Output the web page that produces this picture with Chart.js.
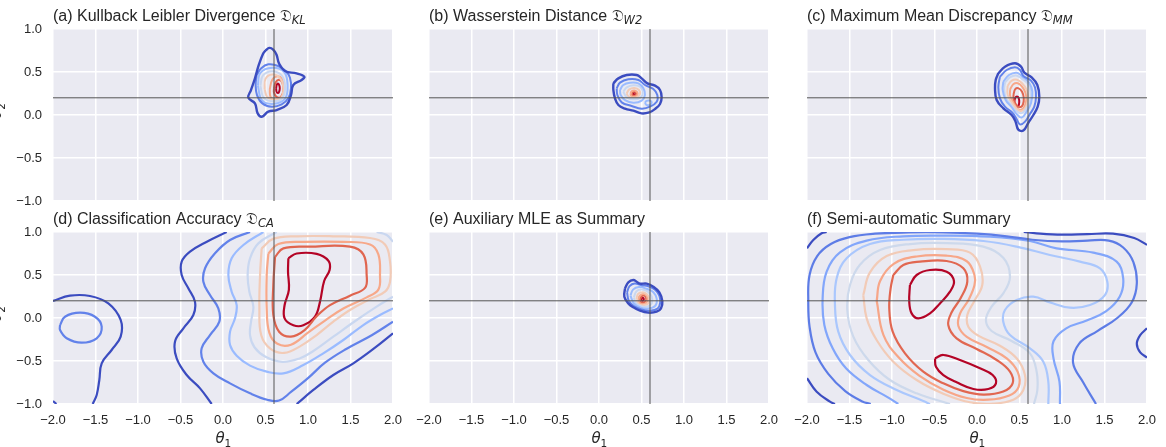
<!DOCTYPE html>
<html>
<head>
<meta charset="utf-8">
<script src="https://cdn.jsdelivr.net/npm/chart.js@4.4.1/dist/chart.umd.min.js"></script>
<style>
  body { margin: 0; background: #fff; }
  #wrap { position: relative; width: 1166px; height: 447px; overflow: hidden; }
  #wrap canvas { position: absolute; left: 0; top: 0; }
</style>
</head>
<body>
<div id="wrap"></div>
<script>
// axis ticks and the true parameter (crosshair)
const xTicks = [-2, -1.5, -1, -0.5, 0, 0.5, 1, 1.5, 2];
const yTicks = [-1, -0.5, 0, 0.5, 1];
const trueTheta = [0.6, 0.2];

// coolwarm colours per contour level (1 = lowest density)
const colors8 = ['#3b4cc0', '#6282ea', '#9abbff', '#c9d7f0', '#f2cbb7', '#f7a889', '#e0654f', '#b40426'];
const colors9 = ['#3b4cc0', '#5d7ce6', '#82a6fb', '#aac7fd', '#cdd9ec', '#f2cbb7', '#f7a688', '#e16751', '#b40426'];

// contour lines: [level, [[theta1, theta2], ...]]
const klLines = [
  [1, [[0.5,0.75],[0.545,0.78],[0.59,0.76],[0.63,0.7],[0.659,0.6],[0.729,0.511],[0.866,0.484],[0.957,0.446],[0.925,0.407],[0.827,0.349],[0.8,0.232],[0.749,0.116],[0.631,0.058],[0.533,0.039],[0.455,-0.02],[0.408,0.019],[0.376,0.135],[0.298,0.201],[0.329,0.29],[0.376,0.426],[0.42,0.58],[0.47,0.71],[0.5,0.75]]],
  [2, [[0.396,0.465],[0.447,0.542],[0.533,0.589],[0.651,0.57],[0.737,0.511],[0.788,0.434],[0.8,0.31],[0.768,0.194],[0.69,0.124],[0.573,0.097],[0.463,0.135],[0.4,0.232],[0.384,0.349],[0.396,0.465]]],
  [3, [[0.41,0.34],[0.44,0.49],[0.58,0.55],[0.72,0.5],[0.76,0.34],[0.73,0.19],[0.6,0.13],[0.46,0.17],[0.41,0.34]]],
  [4, [[0.44,0.34],[0.47,0.46],[0.58,0.51],[0.69,0.46],[0.73,0.33],[0.7,0.2],[0.6,0.16],[0.48,0.2],[0.44,0.34]]],
  [5, [[0.49,0.3],[0.5,0.42],[0.58,0.47],[0.67,0.43],[0.71,0.31],[0.68,0.2],[0.6,0.18],[0.52,0.21],[0.49,0.3]]],
  [6, [[0.55,0.3],[0.58,0.41],[0.64,0.45],[0.7,0.41],[0.72,0.3],[0.69,0.2],[0.62,0.18],[0.56,0.21],[0.55,0.3]]],
  [7, [[0.6,0.31],[0.62,0.38],[0.66,0.41],[0.7,0.37],[0.71,0.28],[0.68,0.21],[0.63,0.21],[0.6,0.26],[0.6,0.31]]],
  [8, [[0.625,0.31],[0.632,0.35],[0.645,0.365],[0.66,0.35],[0.668,0.31],[0.66,0.27],[0.645,0.255],[0.63,0.27],[0.625,0.31]]]
];

const wdLines = [
  [1, [[0.169,0.368],[0.228,0.426],[0.326,0.465],[0.443,0.465],[0.502,0.426],[0.569,0.368],[0.659,0.341],[0.718,0.291],[0.737,0.205],[0.718,0.128],[0.659,0.07],[0.592,0.031],[0.502,0.019],[0.404,0.05],[0.306,0.074],[0.228,0.116],[0.188,0.194],[0.169,0.291],[0.169,0.368]]],
  [2, [[0.208,0.31],[0.247,0.376],[0.345,0.415],[0.463,0.407],[0.541,0.349],[0.639,0.302],[0.686,0.233],[0.679,0.155],[0.6,0.097],[0.502,0.074],[0.384,0.105],[0.267,0.147],[0.216,0.233],[0.208,0.31]]],
  [3, [[0.247,0.291],[0.286,0.349],[0.365,0.376],[0.463,0.368],[0.522,0.31],[0.541,0.233],[0.502,0.167],[0.404,0.143],[0.306,0.174],[0.255,0.233],[0.247,0.291]]],
  [3, [[0.54,0.14],[0.56,0.165],[0.6,0.167],[0.62,0.145],[0.6,0.118],[0.56,0.116],[0.54,0.14]]],
  [4, [[0.286,0.271],[0.326,0.322],[0.404,0.345],[0.482,0.329],[0.514,0.271],[0.49,0.205],[0.404,0.182],[0.326,0.205],[0.286,0.271]]],
  [5, [[0.326,0.252],[0.357,0.298],[0.416,0.314],[0.47,0.291],[0.482,0.244],[0.443,0.205],[0.384,0.202],[0.341,0.221],[0.326,0.252]]],
  [6, [[0.37,0.245],[0.385,0.275],[0.415,0.285],[0.445,0.27],[0.455,0.245],[0.44,0.22],[0.41,0.213],[0.38,0.222],[0.37,0.245]]],
  [7, [[0.385,0.245],[0.395,0.265],[0.415,0.272],[0.435,0.262],[0.44,0.245],[0.43,0.228],[0.41,0.224],[0.392,0.23],[0.385,0.245]]],
  [8, [[0.398,0.245],[0.405,0.257],[0.418,0.26],[0.43,0.252],[0.43,0.238],[0.418,0.232],[0.404,0.235],[0.398,0.245]]]
];

const mmLines = [
  [1, [[0.251,0.485],[0.329,0.562],[0.447,0.601],[0.518,0.562],[0.557,0.492],[0.643,0.438],[0.71,0.349],[0.733,0.213],[0.714,0.097],[0.663,0.0],[0.604,-0.09],[0.545,-0.18],[0.486,-0.17],[0.455,-0.08],[0.408,0.0],[0.31,0.078],[0.231,0.175],[0.212,0.31],[0.22,0.407],[0.251,0.485]]],
  [2, [[0.27,0.446],[0.349,0.523],[0.447,0.554],[0.506,0.523],[0.545,0.454],[0.635,0.4],[0.682,0.322],[0.694,0.206],[0.674,0.097],[0.623,0.012],[0.565,-0.077],[0.506,-0.11],[0.467,-0.05],[0.416,0.027],[0.329,0.097],[0.27,0.194],[0.251,0.322],[0.27,0.446]]],
  [3, [[0.31,0.388],[0.376,0.465],[0.467,0.492],[0.533,0.446],[0.612,0.376],[0.651,0.271],[0.635,0.136],[0.584,0.039],[0.525,-0.03],[0.467,0.01],[0.408,0.09],[0.337,0.175],[0.302,0.291],[0.31,0.388]]],
  [4, [[0.33,0.38],[0.39,0.44],[0.46,0.46],[0.53,0.42],[0.6,0.36],[0.63,0.26],[0.62,0.15],[0.57,0.06],[0.52,0.02],[0.46,0.05],[0.4,0.12],[0.34,0.2],[0.32,0.3],[0.33,0.38]]],
  [5, [[0.36,0.34],[0.41,0.4],[0.47,0.41],[0.53,0.37],[0.58,0.3],[0.6,0.22],[0.59,0.13],[0.55,0.06],[0.5,0.05],[0.45,0.09],[0.4,0.16],[0.36,0.24],[0.36,0.34]]],
  [6, [[0.39,0.3],[0.43,0.36],[0.48,0.37],[0.53,0.33],[0.57,0.26],[0.58,0.18],[0.56,0.1],[0.52,0.06],[0.47,0.08],[0.43,0.14],[0.39,0.22],[0.39,0.3]]],
  [7, [[0.43,0.24],[0.45,0.3],[0.49,0.31],[0.53,0.27],[0.55,0.2],[0.54,0.12],[0.5,0.09],[0.46,0.12],[0.43,0.18],[0.43,0.24]]],
  [8, [[0.44,0.16],[0.45,0.2],[0.47,0.215],[0.49,0.2],[0.497,0.15],[0.487,0.105],[0.467,0.095],[0.447,0.115],[0.44,0.16]]]
];

const caLines = [
  [1, [[0.043,1.0],[-0.19,0.887],[-0.388,0.771],[-0.486,0.655],[-0.486,0.5],[-0.408,0.345],[-0.33,0.19],[-0.349,0.035],[-0.466,-0.12],[-0.565,-0.275],[-0.545,-0.469],[-0.427,-0.663],[-0.27,-0.818],[-0.133,-1.0]]],
  [1, [[-2.0,0.198],[-1.8,0.26],[-1.565,0.256],[-1.349,0.17],[-1.204,-0.023],[-1.204,-0.217],[-1.31,-0.372],[-1.427,-0.527],[-1.455,-0.721],[-1.486,-0.895],[-1.533,-1.0]]],
  [1, [[-2.0,-0.965],[-1.96,-1.0]]],
  [1, [[0.867,-1.0],[1.063,-0.837],[1.298,-0.663],[1.534,-0.527],[1.769,-0.36],[2.0,-0.178]]],
  [2, [[-1.917,-0.082],[-1.859,0.015],[-1.682,0.062],[-1.506,0.015],[-1.427,-0.101],[-1.486,-0.236],[-1.663,-0.287],[-1.839,-0.236],[-1.917,-0.14],[-1.917,-0.082]]],
  [2, [[0.318,1.0],[0.083,0.907],[-0.094,0.752],[-0.211,0.578],[-0.231,0.422],[-0.153,0.267],[-0.055,0.112],[-0.043,-0.043],[-0.153,-0.198],[-0.251,-0.353],[-0.231,-0.508],[-0.113,-0.643],[0.083,-0.76],[0.318,-0.876],[0.52,-0.95],[0.66,-0.96],[0.8,-0.86],[1.0,-0.7],[1.2,-0.52],[1.45,-0.36],[1.75,-0.2],[2.0,-0.043]]],
  [3, [[0.475,1.0],[0.24,0.849],[0.102,0.694],[0.063,0.5],[0.102,0.306],[0.161,0.151],[0.141,-0.004],[0.083,-0.159],[0.083,-0.314],[0.161,-0.438],[0.318,-0.554],[0.514,-0.624],[0.71,-0.643],[0.945,-0.547],[1.18,-0.411],[1.416,-0.256],[1.651,-0.082],[1.847,0.035],[2.0,0.112]]],
  [4, [[0.632,1.0],[0.416,0.868],[0.318,0.694],[0.29,0.5],[0.31,0.306],[0.357,0.132],[0.33,-0.043],[0.318,-0.198],[0.37,-0.34],[0.5,-0.45],[0.7,-0.51],[0.9,-0.47],[1.063,-0.384],[1.298,-0.217],[1.573,-0.023],[1.808,0.132],[2.0,0.248]]],
  [4, [[1.808,1.0],[1.926,0.965],[2.0,0.888]]],
  [5, [[0.455,0.81],[0.59,0.92],[0.867,0.95],[1.298,0.95],[1.73,0.93],[1.906,0.855],[1.965,0.655],[1.965,0.422],[1.906,0.306],[1.73,0.22],[1.494,0.093],[1.298,-0.043],[1.102,-0.198],[0.906,-0.33],[0.72,-0.406],[0.56,-0.36],[0.45,-0.2],[0.428,0.112],[0.436,0.5],[0.455,0.81]]],
  [6, [[0.534,0.75],[0.651,0.86],[0.945,0.885],[1.416,0.885],[1.73,0.855],[1.828,0.74],[1.847,0.5],[1.828,0.33],[1.69,0.24],[1.416,0.11],[1.2,-0.03],[1.0,-0.17],[0.8,-0.31],[0.64,-0.3],[0.545,-0.17],[0.514,0.112],[0.514,0.5],[0.534,0.75]]],
  [7, [[0.612,0.71],[0.71,0.81],[1.024,0.83],[1.494,0.83],[1.651,0.74],[1.69,0.5],[1.671,0.35],[1.494,0.26],[1.259,0.15],[1.102,0.02],[0.96,-0.14],[0.8,-0.217],[0.66,-0.16],[0.592,0.035],[0.592,0.384],[0.612,0.71]]],
  [8, [[0.769,0.694],[0.867,0.75],[1.102,0.745],[1.24,0.665],[1.255,0.56],[1.19,0.43],[1.141,0.19],[1.082,0.015],[0.945,-0.085],[0.828,-0.085],[0.725,-0.004],[0.725,0.151],[0.775,0.326],[0.765,0.539],[0.769,0.694]]]
];

const mleLines = [
  [1, [[0.306,0.345],[0.345,0.414],[0.404,0.442],[0.443,0.422],[0.482,0.399],[0.561,0.399],[0.639,0.364],[0.71,0.298],[0.745,0.197],[0.729,0.112],[0.678,0.073],[0.58,0.062],[0.482,0.085],[0.404,0.124],[0.345,0.17],[0.298,0.248],[0.306,0.345]]],
  [2, [[0.33,0.3],[0.36,0.37],[0.42,0.4],[0.5,0.38],[0.58,0.37],[0.66,0.33],[0.71,0.26],[0.72,0.18],[0.69,0.11],[0.6,0.085],[0.5,0.1],[0.41,0.14],[0.35,0.2],[0.33,0.3]]],
  [3, [[0.37,0.26],[0.4,0.33],[0.47,0.36],[0.56,0.34],[0.64,0.3],[0.68,0.22],[0.66,0.14],[0.58,0.11],[0.49,0.12],[0.41,0.17],[0.37,0.26]]],
  [4, [[0.41,0.24],[0.44,0.31],[0.5,0.33],[0.57,0.31],[0.62,0.25],[0.62,0.17],[0.56,0.13],[0.49,0.14],[0.43,0.18],[0.41,0.24]]],
  [5, [[0.44,0.22],[0.46,0.28],[0.51,0.3],[0.56,0.28],[0.59,0.23],[0.58,0.17],[0.53,0.15],[0.47,0.16],[0.44,0.22]]],
  [6, [[0.46,0.21],[0.48,0.26],[0.52,0.28],[0.56,0.26],[0.57,0.21],[0.55,0.17],[0.51,0.16],[0.47,0.18],[0.46,0.21]]],
  [7, [[0.48,0.21],[0.5,0.25],[0.53,0.26],[0.55,0.24],[0.555,0.205],[0.53,0.18],[0.5,0.18],[0.48,0.21]]],
  [8, [[0.495,0.217],[0.5,0.23],[0.512,0.235],[0.524,0.228],[0.527,0.214],[0.518,0.203],[0.505,0.203],[0.495,0.217]]]
];

const saLines = [
  [1, [[-2.0,0.81],[-1.926,0.907],[-1.828,0.985],[-1.769,1.0]]],
  [1, [[-2.0,-0.7],[-1.886,-0.857],[-1.73,-0.973],[-1.671,-1.0]]],
  [1, [[0.55,1.0],[0.7,0.985],[1.0,0.97],[1.3,0.975],[1.6,0.98],[1.85,0.93],[2.0,0.85]]],
  [1, [[2.0,-0.12],[1.92,-0.2],[1.88,-0.3],[1.92,-0.4],[2.0,-0.46]]],
  [2, [[-1.25,-1.0],[-1.35,-0.97],[-1.55,-0.85],[-1.75,-0.65],[-1.9,-0.4],[-1.97,-0.1],[-1.985,0.2],[-1.97,0.5],[-1.88,0.72],[-1.72,0.86],[-1.5,0.94],[-1.2,0.98],[-0.8,0.995],[-0.4,0.995],[0.0,0.98],[0.35,0.95],[0.65,0.91],[1.0,0.89],[1.3,0.9],[1.55,0.9],[1.72,0.82],[1.84,0.65],[1.88,0.4],[1.82,0.18],[1.65,0.0],[1.42,-0.15],[1.2,-0.3],[1.13,-0.52],[1.25,-0.75],[1.4,-1.0]]],
  [3, [[-0.926,-1.0],[-1.043,-0.926],[-1.298,-0.779],[-1.541,-0.585],[-1.698,-0.353],[-1.796,-0.081],[-1.816,0.229],[-1.769,0.539],[-1.612,0.763],[-1.298,0.9],[-0.867,0.95],[-0.396,0.958],[0.153,0.945],[0.623,0.895],[0.937,0.81],[1.368,0.76],[1.643,0.655],[1.72,0.46],[1.68,0.25],[1.52,0.08],[1.29,-0.03],[1.05,-0.12],[0.9,-0.27],[0.9,-0.47],[0.97,-0.74],[0.976,-1.0]]],
  [4, [[-0.553,-1.0],[-0.632,-0.965],[-0.945,-0.837],[-1.259,-0.663],[-1.494,-0.43],[-1.632,-0.159],[-1.671,0.151],[-1.651,0.461],[-1.534,0.694],[-1.259,0.86],[-0.867,0.91],[-0.396,0.92],[0.074,0.895],[0.466,0.83],[0.858,0.733],[1.211,0.655],[1.447,0.577],[1.533,0.422],[1.505,0.267],[1.329,0.151],[1.094,0.12],[0.858,0.182],[0.662,0.248],[0.466,0.209],[0.329,0.093],[0.309,-0.043],[0.388,-0.198],[0.623,-0.353],[0.78,-0.508],[0.839,-0.74],[0.839,-1.0]]],
  [5, [[-0.318,-1.0],[-0.71,-0.876],[-1.024,-0.721],[-1.279,-0.488],[-1.455,-0.217],[-1.526,0.093],[-1.494,0.384],[-1.377,0.62],[-1.141,0.79],[-0.788,0.86],[-0.357,0.87],[0.074,0.83],[0.309,0.7],[0.388,0.481],[0.309,0.287],[0.172,0.132],[0.105,-0.023],[0.172,-0.151],[0.407,-0.267],[0.623,-0.411],[0.702,-0.624],[0.71,-0.837],[0.67,-1.0]]],
  [6, [[-1.338,0.267],[-1.259,0.53],[-1.063,0.72],[-0.749,0.79],[-0.357,0.8],[-0.083,0.76],[0.035,0.6],[0.062,0.384],[-0.036,0.19],[-0.114,0.035],[-0.102,-0.101],[0.015,-0.205],[0.27,-0.322],[0.466,-0.469],[0.564,-0.663],[0.545,-0.837],[0.427,-0.95],[0.192,-0.995],[-0.083,-0.98],[-0.396,-0.88],[-0.71,-0.721],[-0.985,-0.508],[-1.181,-0.256],[-1.298,-0.004],[-1.338,0.267]]],
  [7, [[-1.18,0.2],[-1.14,0.43],[-0.98,0.63],[-0.71,0.715],[-0.36,0.725],[-0.12,0.66],[-0.03,0.5],[-0.03,0.38],[-0.1,0.21],[-0.2,0.05],[-0.22,-0.09],[-0.12,-0.22],[0.12,-0.34],[0.35,-0.47],[0.48,-0.63],[0.49,-0.8],[0.38,-0.9],[0.13,-0.95],[-0.12,-0.93],[-0.4,-0.83],[-0.68,-0.67],[-0.92,-0.46],[-1.1,-0.2],[-1.18,0.2]]],
  [8, [[-0.985,0.5],[-0.867,0.616],[-0.671,0.655],[-0.357,0.663],[-0.161,0.578],[-0.114,0.422],[-0.193,0.229],[-0.298,0.066],[-0.338,-0.081],[-0.24,-0.236],[-0.004,-0.36],[0.231,-0.488],[0.388,-0.624],[0.419,-0.76],[0.309,-0.855],[0.074,-0.89],[-0.161,-0.85],[-0.396,-0.76],[-0.632,-0.624],[-0.847,-0.411],[-0.992,-0.159],[-1.032,0.112],[-1.016,0.345],[-0.985,0.5]]],
  [9, [[-0.789,0.384],[-0.71,0.5],[-0.553,0.558],[-0.357,0.539],[-0.271,0.43],[-0.318,0.306],[-0.436,0.17],[-0.553,0.054],[-0.691,-0.004],[-0.769,0.054],[-0.797,0.19],[-0.789,0.384]]],
  [9, [[-0.494,-0.469],[-0.396,-0.43],[-0.2,-0.488],[0.035,-0.585],[0.184,-0.663],[0.223,-0.76],[0.133,-0.826],[-0.043,-0.826],[-0.24,-0.748],[-0.396,-0.663],[-0.483,-0.566],[-0.494,-0.469]]]
];

const FONT = '"Liberation Sans", Arial, sans-serif';
const TEXT = '#262626';

const panels = [
  { title: '(a) Kullback Leibler Divergence ', sub: 'KL', lines: klLines, colors: colors8, left: 53, top: 29, showY: true, showX: false, small: true },
  { title: '(b) Wasserstein Distance ', sub: 'W2', lines: wdLines, colors: colors8, left: 429, top: 29, showY: false, showX: false, small: true },
  { title: '(c) Maximum Mean Discrepancy ', sub: 'MM', lines: mmLines, colors: colors8, left: 807, top: 29, showY: false, showX: false, small: true },
  { title: '(d) Classification Accuracy ', sub: 'CA', lines: caLines, colors: colors8, left: 53, top: 232, showY: true, showX: true },
  { title: '(e) Auxiliary MLE as Summary', sub: null, lines: mleLines, colors: colors8, left: 429, top: 232, showY: false, showX: true, small: true },
  { title: '(f) Semi-automatic Summary', sub: null, lines: saLines, colors: colors9, left: 807, top: 232, showY: false, showX: true }
];

const W = 1166, H = 447, PW = 340, PH = 172;

const fmt = v => (v < 0 ? '\u2212' : '') + Math.abs(v).toFixed(1);

const bgPlugin = {
  id: 'panelBg',
  beforeDraw(chart) {
    const a = chart.chartArea, ctx = chart.ctx;
    ctx.save();
    ctx.fillStyle = '#eaeaf2';
    ctx.fillRect(a.left, a.top, a.right - a.left, a.bottom - a.top);
    ctx.restore();
  }
};

const textPlugin = {
  id: 'panelText',
  afterDraw(chart, args, opts) {
    const p = opts.panel, a = chart.chartArea, ctx = chart.ctx;
    ctx.save();
    ctx.fillStyle = TEXT;
    ctx.textBaseline = 'alphabetic';
    ctx.textAlign = 'left';
    // title with fraktur D and subscript
    let x = a.left;
    const y = a.top - 8;
    ctx.font = '16px ' + FONT;
    ctx.fillText(p.title, x, y);
    if (p.sub) {
      x += ctx.measureText(p.title).width;
      ctx.font = '16px "DejaVu Sans", "DejaVu Serif", serif';
      ctx.fillText('\u{1D507}', x, y);
      x += ctx.measureText('\u{1D507}').width;
      ctx.font = 'italic 11.5px "DejaVu Sans", sans-serif';
      ctx.fillText(p.sub, x, y + 3);
    }
    // theta_1 under bottom panels
    if (p.showX) {
      const cx = (a.left + a.right) / 2;
      ctx.font = 'italic 15px "DejaVu Sans", sans-serif';
      const tw = ctx.measureText('\u03b8').width;
      ctx.fillText('\u03b8', cx - tw / 2 - 3, 443);
      ctx.font = '10.5px "DejaVu Sans", sans-serif';
      ctx.fillText('1', cx + tw / 2 - 3, 447);
    }
    // theta_2, cut at the left border
    if (p.showY) {
      const cy = (a.top + a.bottom) / 2;
      ctx.translate(1, cy + 4);
      ctx.rotate(-Math.PI / 2);
      ctx.font = 'italic 15px "DejaVu Sans", sans-serif';
      ctx.fillText('\u03b8', 0, 0);
      const tw = ctx.measureText('\u03b8').width;
      ctx.font = '10.5px "DejaVu Sans", sans-serif';
      ctx.fillText('2', tw, 4);
    }
    ctx.restore();
  }
};

const wrap = document.getElementById('wrap');

panels.forEach(p => {
  const cv = document.createElement('canvas');
  cv.width = W; cv.height = H;
  wrap.appendChild(cv);

  const datasets = [
    { data: [{ x: trueTheta[0], y: -1 }, { x: trueTheta[0], y: 1 }], borderColor: '#555555', borderWidth: 1, tension: 0 },
    { data: [{ x: -2, y: trueTheta[1] }, { x: 2, y: trueTheta[1] }], borderColor: '#555555', borderWidth: 1, tension: 0 }
  ];
  p.lines.forEach(([lvl, pts]) => {
    datasets.push({
      data: pts.map(([x, y]) => ({ x, y })),
      borderColor: p.colors[lvl - 1],
      borderWidth: p.small ? (lvl === 1 ? 2.4 : 2) : 2.2,
      tension: 0.4
    });
  });
  datasets.forEach(d => { d.showLine = true; d.pointRadius = 0; d.fill = false; d.clip = 0; });

  const bottom = p.top + PH;
  new Chart(cv, {
    type: 'scatter',
    data: { datasets },
    options: {
      responsive: false,
      animation: false,
      events: [],
      layout: { padding: { left: p.left - (p.showY ? 53 : 0), top: p.top, right: W - p.left - PW, bottom: 0 } },
      elements: { line: { capBezierPoints: false } },
      scales: {
        x: {
          type: 'linear', min: -2, max: 2,
          afterBuildTicks: s => { s.ticks = xTicks.map(v => ({ value: v })); },
          afterFit: s => { s.height = H - bottom; },
          grid: { color: '#ffffff', lineWidth: 1.5, drawTicks: false },
          border: { display: false },
          ticks: { display: p.showX, padding: 9, color: TEXT, font: { family: FONT, size: 13 }, maxRotation: 0, autoSkip: false, callback: fmt }
        },
        y: {
          type: 'linear', min: -1, max: 1,
          afterBuildTicks: s => { s.ticks = yTicks.map(v => ({ value: v })); },
          afterFit: s => { s.width = p.showY ? 53 : 0; },
          grid: { color: '#ffffff', lineWidth: 1.5, drawTicks: false },
          border: { display: false },
          ticks: { display: p.showY, padding: 11, color: TEXT, font: { family: FONT, size: 13 }, autoSkip: false, callback: fmt }
        }
      },
      plugins: {
        legend: { display: false },
        tooltip: { enabled: false },
        panelText: { panel: p }
      }
    },
    plugins: [bgPlugin, textPlugin]
  });
});
</script>
</body>
</html>
